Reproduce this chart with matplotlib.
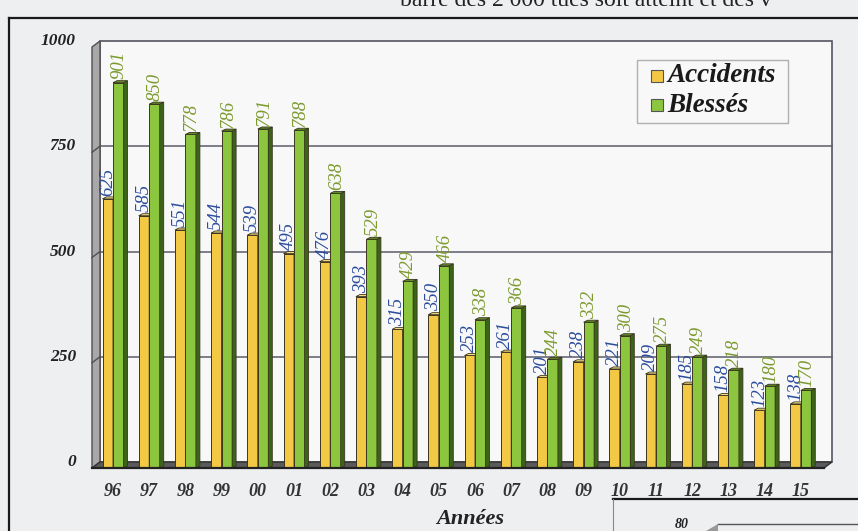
import matplotlib.pyplot as plt
import numpy as np
from matplotlib.patches import Polygon, Rectangle

# data
years = ['96', '97', '98', '99', '00', '01', '02', '03', '04', '05',
         '06', '07', '08', '09', '10', '11', '12', '13', '14', '15']
accidents = [625, 585, 551, 544, 539, 495, 476, 393, 315, 350,
             253, 261, 201, 238, 221, 209, 185, 158, 123, 138]
blesses = [901, 850, 778, 786, 791, 788, 638, 529, 429, 466,
           338, 366, 244, 332, 300, 275, 249, 218, 180, 170]
yticks = [0, 250, 500, 750, 1000]

serif = 'Liberation Serif'
bg = '#eeeff1'
yel, yel_top, yel_side = '#f3c845', '#f7dc80', '#b08a20'
grn, grn_top, grn_side = '#8cc63f', '#5f8f25', '#3c6419'
edge = '#3a3520'

W, H = 858, 531
fig = plt.figure(figsize=(W / 100, H / 100), dpi=100, facecolor=bg)
ax = fig.add_axes([0, 0, 1, 1])
ax.set_facecolor(bg)
ax.axis('off')

# pixel mapping: group centre x = 113 + 36.2*i ; value y = 462 - 0.421*v
sx, x0 = 36.2, 113
sy, y0 = 0.421, 462
ax.set_xlim((0 - x0) / sx, (W - x0) / sx)
ax.set_ylim((y0 - H) / sy, y0 / sy)

xL = (92 - x0) / sx
xR = (832 - x0) / sx
dx = 8 / sx
dy = 6 / sy
ymax = 1000

# back wall
ax.add_patch(Rectangle((xL + dx, 0), xR - xL - dx, ymax, facecolor='#f8f8f8',
                       edgecolor='#555560', lw=1.2, zorder=1))
# left wall
ax.add_patch(Polygon([(xL, -dy), (xL + dx, 0), (xL + dx, ymax), (xL, ymax - dy)],
                     closed=True, facecolor='#a9a7a8', edgecolor='#505050', lw=1, zorder=2))
# gridlines
for v in yticks[1:-1]:
    ax.plot([xL + dx, xR], [v, v], color='#5c5c6a', lw=1.1, zorder=1.5)
    ax.plot([xL, xL + dx], [v - dy, v], color='#505050', lw=1, zorder=2.5)
# floor
ax.add_patch(Polygon([(xL, -dy), (xR - dx, -dy), (xR, 0), (xL + dx, 0)],
                     closed=True, facecolor='#5a5a5a', edgecolor='#333333', lw=1, zorder=2))
ax.plot([xL, xR - dx], [-dy, -dy], color='#222222', lw=1.6, zorder=6)

# bars
bw = 10.5 / sx
sdx = 4 / sx
sdy = 2 / sy
x = np.arange(len(years))


def bar3d(xs, vals, front, top, side):
    ax.bar(xs, np.array(vals) + dy, width=bw, bottom=-dy, align='edge',
           color=front, edgecolor=edge, lw=0.7, zorder=4)
    for xi, v in zip(xs, vals):
        ax.add_patch(Polygon([(xi + bw, -dy), (xi + bw + sdx, -dy + sdy),
                              (xi + bw + sdx, v + sdy), (xi + bw, v)],
                             closed=True, facecolor=side, edgecolor=edge, lw=0.6, zorder=4))
        ax.add_patch(Polygon([(xi, v), (xi + bw, v), (xi + bw + sdx, v + sdy),
                              (xi + sdx, v + sdy)],
                             closed=True, facecolor=top, edgecolor=edge, lw=0.6, zorder=4))


bar3d(x - bw, accidents, yel, yel_top, yel_side)
bar3d(x, blesses, grn, grn_top, grn_side)

# value labels
for xi, a, b in zip(x, accidents, blesses):
    ax.text(xi - bw / 2, a + 8, str(a), rotation=90, ha='center', va='bottom',
            family=serif, style='italic', fontsize=13.5, color='#2b4c9c', zorder=7)
    ax.text(xi + bw / 2 + 0.03, b + 8, str(b), rotation=90, ha='center', va='bottom',
            family=serif, style='italic', fontsize=13.5, color='#7c9a2e', zorder=7)

# axis labels
for v in yticks:
    ax.text((76 - x0) / sx, v, str(v), ha='right', va='center', family=serif,
            style='italic', weight='bold', fontsize=12.5, color='#222222')
for xi, yr in zip(x, years):
    ax.text(xi, (y0 - 491) / sy, yr, ha='center', va='center', family=serif,
            style='italic', weight='bold', fontsize=13, color='#333333')
ax.text((470 - x0) / sx, (y0 - 519) / sy, 'Années', ha='center', va='center',
        family=serif, style='italic', weight='bold', fontsize=16, color='#222222')

# legend
lx0, lx1 = (637 - x0) / sx, (788 - x0) / sx
ly0, ly1 = (y0 - 123) / sy, (y0 - 60) / sy
ax.add_patch(Rectangle((lx0, ly0), lx1 - lx0, ly1 - ly0, facecolor='#f8f8f8',
                       edgecolor='#b0b0b0', lw=1, zorder=5))
for name, col, py in [('Accidents', yel, 76), ('Blessés', grn, 105)]:
    ax.add_patch(Rectangle(((651 - x0) / sx, (y0 - py - 6) / sy), 12 / sx, 12 / sy,
                           facecolor=col, edgecolor='#555555', lw=0.8, zorder=6))
    ax.text((667 - x0) / sx, (y0 - py) / sy, name, ha='left', va='center',
            family=serif, style='italic', weight='bold', fontsize=19.5,
            color='#1a1a1a', zorder=6)

# page frame and surrounding page fragments
fig.add_artist(plt.Line2D([9 / W, 1], [1 - 18 / H, 1 - 18 / H], color='#1a1a1a', lw=1.6))
fig.add_artist(plt.Line2D([9 / W, 9 / W], [0, 1 - 18 / H], color='#1a1a1a', lw=1.6))
fig.add_artist(plt.Line2D([613 / W, 1], [1 - 499 / H, 1 - 499 / H], color='#1a1a1a', lw=1.6))
fig.add_artist(plt.Line2D([613 / W, 613 / W], [0, 1 - 499 / H], color='#888888', lw=0.8))
fig.add_artist(plt.Line2D([718 / W, 1], [1 - 524 / H, 1 - 524 / H], color='#555555', lw=1))
fig.add_artist(Polygon([(706 / W, 1 - 531 / H), (718 / W, 1 - 524 / H), (718 / W, 0)],
                       closed=True, facecolor='#999999', edgecolor='none'))
fig.text(682 / W, 1 - 525 / H, '80', ha='center', va='center', family=serif,
         style='italic', weight='bold', fontsize=10, color='#222222')
fig.text(400 / W, 1 - 1 / H, 'barre des 2 000 tués soit atteint et des v', ha='left',
         va='center', family=serif, fontsize=17, color='#222222')

fig.savefig('out.png', dpi=100, facecolor=bg)
